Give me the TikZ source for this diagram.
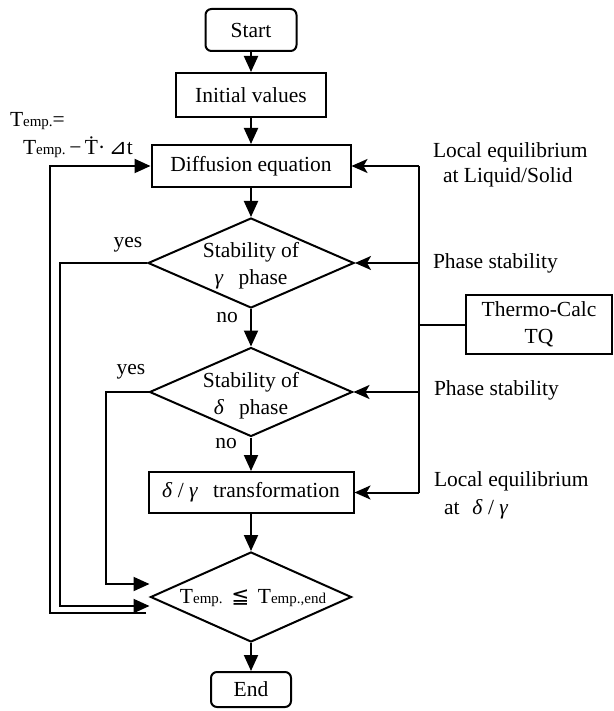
\documentclass[tikz,border=0pt]{standalone}
\usepackage{fontspec}
\setmainfont{Liberation Serif}
\newfontfamily\dvs{DejaVu Sans}
\usetikzlibrary{shapes.geometric,arrows.meta}
\newcommand{\Tsm}[1]{T{\fontsize{15}{15}\selectfont #1}}
\newcommand{\gi}{\textit{γ}}
\newcommand{\di}{\textit{δ}}
\begin{document}
\begin{tikzpicture}[x=1pt,y=-1pt,
  font=\fontsize{21.5}{27}\selectfont,
  line width=2pt,
  box/.style={draw,rectangle,inner sep=0pt,align=center},
  rbox/.style={box,rounded corners=6pt},
  dia/.style={draw,diamond,inner sep=0pt},
  lbl/.style={inner sep=0pt,anchor=west},
  arr/.style={-{Triangle[length=16pt,width=14pt]}},
  rarr/.style={-{Stealth[length=16pt,width=14pt,inset=4pt]}}]
\useasboundingbox (0,0) rectangle (613,711);

% main column
\node[rbox,minimum width=91pt,minimum height=42pt] (start) at (251,30) {Start};
\node[box,minimum width=150pt,minimum height=44pt] (init) at (251,95) {Initial values};
\node[box,minimum width=199pt,minimum height=42pt] (diff) at (251,166) {Diffusion equation};
\node[dia,minimum width=206pt,minimum height=90pt] (d1) at (251,263) {};
\node[inner sep=0pt,align=center] (t1) at (251,266) {Stability of\\\gi\hspace{0.7em}phase};
\node[dia,minimum width=203pt,minimum height=89pt] (d2) at (251,392) {};
\node[inner sep=0pt,align=center] (t2) at (251,396) {Stability of\\\di\hspace{0.7em}phase};
\node[box,minimum width=205pt,minimum height=41pt] (trans) at (251,492.5) {\di\ /\ \gi\hspace{0.7em}transformation};
\node[dia,minimum width=201pt,minimum height=90pt] (d3) at (251,597) {};
\node[inner sep=0pt] (t3) at (253,598) {\Tsm{emp.}\hspace{0.4em}{\dvs ≦}\hspace{0.4em}\Tsm{emp.,end}};
\node[rbox,minimum width=80pt,minimum height=35pt] (end) at (251,689.5) {End};

% Thermo-Calc box
\node[box,minimum width=146pt,minimum height=59pt] (tc) at (539,324.5) {Thermo-Calc\\TQ};

% main arrows
\draw[arr] (start) -- (init);
\draw[arr] (init) -- (diff);
\draw[arr] (diff) -- (d1.north);
\draw[arr] (d1.south) -- (d2.north);
\draw[arr] (d2.south) -- (trans);
\draw[arr] (trans) -- (d3.north);
\draw[arr] (d3.south) -- (end);

% labels no / yes
\node[inner sep=0pt] (no1) at (227,318) {no};
\node[inner sep=0pt] (no2) at (226,444) {no};
\node[inner sep=0pt] (yes1) at (128,245) {yes};
\node[inner sep=0pt] (yes2) at (131,372) {yes};

% yes branches
\coordinate (ya) at (60,606);
\coordinate (yb) at (106,584);
\draw[arr] (d1.west) -| (ya) -- (d3.west |- ya);
\draw[arr] (d2.west) -| (yb) -- (d3.west |- yb);

% loop back
\coordinate (lp) at (146,613);
\coordinate (lx) at (50,613);
\draw[arr] (lp) -- (lx) |- (diff.west);
\node[lbl] (tmp1) at (9,121) {\Tsm{emp.}=};
\node[lbl] (tmp2) at (22,147) {\Tsm{emp.}\,−\,\.{T}·\,{\dvs ⊿}t};

% right side
\coordinate (rt) at (419,166);
\coordinate (rb) at (419,492.5);
\draw (rt) -- (rb);
\draw[rarr] (rt) -- (diff.east);
\draw[rarr] (rt |- d1.east) -- (d1.east);
\draw[rarr] (rt |- d2.east) -- (d2.east);
\draw[rarr] (rb) -- (trans.east);
\draw (tc.west) -- (tc.west -| rt);

\node[lbl] (le1) at (432,152) {Local equilibrium};
\node[lbl] (le2) at (442,177) {at Liquid/Solid};
\node[lbl] (ps1) at (432,263) {Phase stability};
\node[lbl] (ps2) at (433,390) {Phase stability};
\node[lbl] (le3) at (433,481) {Local equilibrium};
\node[lbl] (le4) at (443,509) {at\hspace{0.6em}\di\ /\ \gi};
\end{tikzpicture}
\end{document}
